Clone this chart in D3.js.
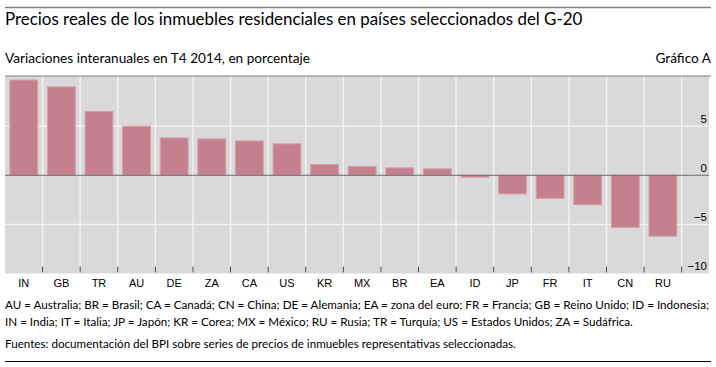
<!DOCTYPE html>
<html>
<head>
<meta charset="utf-8">
<script src="https://cdn.jsdelivr.net/npm/d3@7"></script>
<style>
  body { margin: 0; background: #fff; }
  svg text { font-family: Lato, "Open Sans", sans-serif; }
  svg text.arial { font-family: "Liberation Sans", Arial, sans-serif; }
</style>
</head>
<body>
<svg id="chart" width="716" height="367"></svg>
<script>
/* Real residential property prices, selected G-20 countries */
var countries = ["IN", "GB", "TR", "AU", "DE", "ZA", "CA", "US", "KR", "MX", "BR", "EA", "ID", "JP", "FR", "IT", "CN", "RU"];
var values = [9.7, 9.0, 6.5, 5.0, 3.8, 3.7, 3.5, 3.2, 1.1, 0.9, 0.75, 0.65, -0.2, -1.9, -2.35, -3.0, -5.3, -6.2];
var yTicks = [-10, -5, 0, 5];

var title = "Precios reales de los inmuebles residenciales en países seleccionados del G-20";
var subtitle = "Variaciones interanuales en T4 2014, en porcentaje";
var chartId = "Gráfico A";
var notes = [
    "AU = Australia; BR = Brasil; CA = Canadá; CN = China; DE = Alemania; EA = zona del euro; FR = Francia; GB = Reino Unido; ID = Indonesia;",
    "IN = India; IT = Italia; JP = Japón; KR = Corea; MX = México; RU = Rusia; TR = Turquía; US = Estados Unidos; ZA = Sudáfrica."
];
var source = "Fuentes: documentación del BPI sobre series de precios de inmuebles representativas seleccionadas.";

var plot = {left: 5, right: 709, top: 76, bottom: 273.5};

var svg = d3.select("#chart");

// shrink font so a text line spans a given width
function fitText(sel, target) {
    var size = +sel.attr("font-size");
    var w = sel.node().getComputedTextLength();
    if (w > 0) sel.attr("font-size", size * target / w);
    return +sel.attr("font-size");
}

/* header */
svg.append("line")
    .attr("x1", 5).attr("x2", 711).attr("y1", 7.5).attr("y2", 7.5)
    .attr("stroke", "#808080").attr("stroke-width", 1.5);

var titleText = svg.append("text")
    .attr("x", 5).attr("y", 25)
    .attr("font-size", 17)
    .text(title);
fitText(titleText, 578);

var subText = svg.append("text")
    .attr("x", 5).attr("y", 63)
    .attr("font-size", 13.7)
    .text(subtitle);
var subSize = fitText(subText, 305);

svg.append("text")
    .attr("x", 711).attr("y", 63)
    .attr("font-size", subSize)
    .attr("text-anchor", "end")
    .text(chartId);

/* scales */
var x = d3.scaleBand()
    .domain(countries)
    .range([5, 681.7])
    .paddingInner(0.26)
    .paddingOuter(0.13);

var y = d3.scaleLinear()
    .domain([-10, 10])
    .range([plot.bottom, 77]);

var step = x.step();
var x0 = x.range()[0];

/* plot background */
svg.append("rect")
    .attr("x", plot.left).attr("y", plot.top)
    .attr("width", plot.right - plot.left)
    .attr("height", plot.bottom - plot.top)
    .attr("fill", "#d9d9d9");

/* horizontal gridlines */
svg.append("g")
    .selectAll("line")
    .data(yTicks.filter(d => d !== 0 && d !== -10))
    .enter()
    .append("line")
    .attr("x1", plot.left).attr("x2", plot.right)
    .attr("y1", d => y(d)).attr("y2", d => y(d))
    .attr("stroke", "#f2f2f2").attr("stroke-width", 1.5);

/* vertical gridlines at band boundaries */
var bounds = countries.map((c, i) => x0 + step * (i + 1));
svg.append("g")
    .selectAll("line")
    .data(bounds)
    .enter()
    .append("line")
    .attr("x1", d => d).attr("x2", d => d)
    .attr("y1", plot.top).attr("y2", plot.bottom)
    .attr("stroke", "#f2f2f2").attr("stroke-width", 1.5);

/* top border */
svg.append("line")
    .attr("x1", plot.left).attr("x2", 711)
    .attr("y1", plot.top).attr("y2", plot.top)
    .attr("stroke", "#808080").attr("stroke-width", 1.2);

/* bars */
svg.append("g")
    .selectAll("rect")
    .data(countries.map((c, i) => ({c: c, v: values[i]})))
    .enter()
    .append("rect")
    .attr("x", d => x(d.c))
    .attr("width", x.bandwidth())
    .attr("y", d => y(Math.max(0, d.v)))
    .attr("height", d => Math.abs(y(d.v) - y(0)))
    .attr("fill", "#c4808d")
    .attr("stroke", "#d4a0aa")
    .attr("stroke-width", 1);

/* zero line */
svg.append("line")
    .attr("x1", plot.left).attr("x2", plot.right)
    .attr("y1", y(0)).attr("y2", y(0))
    .attr("stroke", "#6b6b6b").attr("stroke-width", 1.2);

/* bottom tick marks */
svg.append("g")
    .selectAll("line")
    .data(bounds)
    .enter()
    .append("line")
    .attr("x1", d => d).attr("x2", d => d)
    .attr("y1", plot.bottom - 7).attr("y2", plot.bottom - 1)
    .attr("stroke", "#444").attr("stroke-width", 1);

/* y labels, inside plot on the right */
svg.append("g")
    .selectAll("text")
    .data(yTicks)
    .enter()
    .append("text")
    .attr("class", "arial")
    .attr("x", 707)
    .attr("y", d => y(d) - 3.5)
    .attr("text-anchor", "end")
    .attr("font-size", 11.5)
    .text(d => d < 0 ? "\u2212" + Math.abs(d) : d);

/* category labels */
svg.append("g")
    .selectAll("text")
    .data(countries)
    .enter()
    .append("text")
    .attr("class", "arial")
    .attr("x", d => x(d) + x.bandwidth() / 2)
    .attr("y", 287)
    .attr("text-anchor", "middle")
    .attr("font-size", 11)
    .text(d => d);

/* footnotes */
var noteText = svg.append("g")
    .selectAll("text")
    .data(notes)
    .enter()
    .append("text")
    .attr("x", 5)
    .attr("y", (d, i) => 309 + i * 17)
    .attr("font-size", 12)
    .text(d => d);
var noteSize = fitText(d3.select(noteText.nodes()[0]), 705);
noteText.attr("font-size", noteSize);

svg.append("text")
    .attr("x", 5).attr("y", 348)
    .attr("font-size", noteSize)
    .text(source);

svg.append("line")
    .attr("x1", 5).attr("x2", 711).attr("y1", 361.5).attr("y2", 361.5)
    .attr("stroke", "#000").attr("stroke-width", 1);
</script>
</body>
</html>
